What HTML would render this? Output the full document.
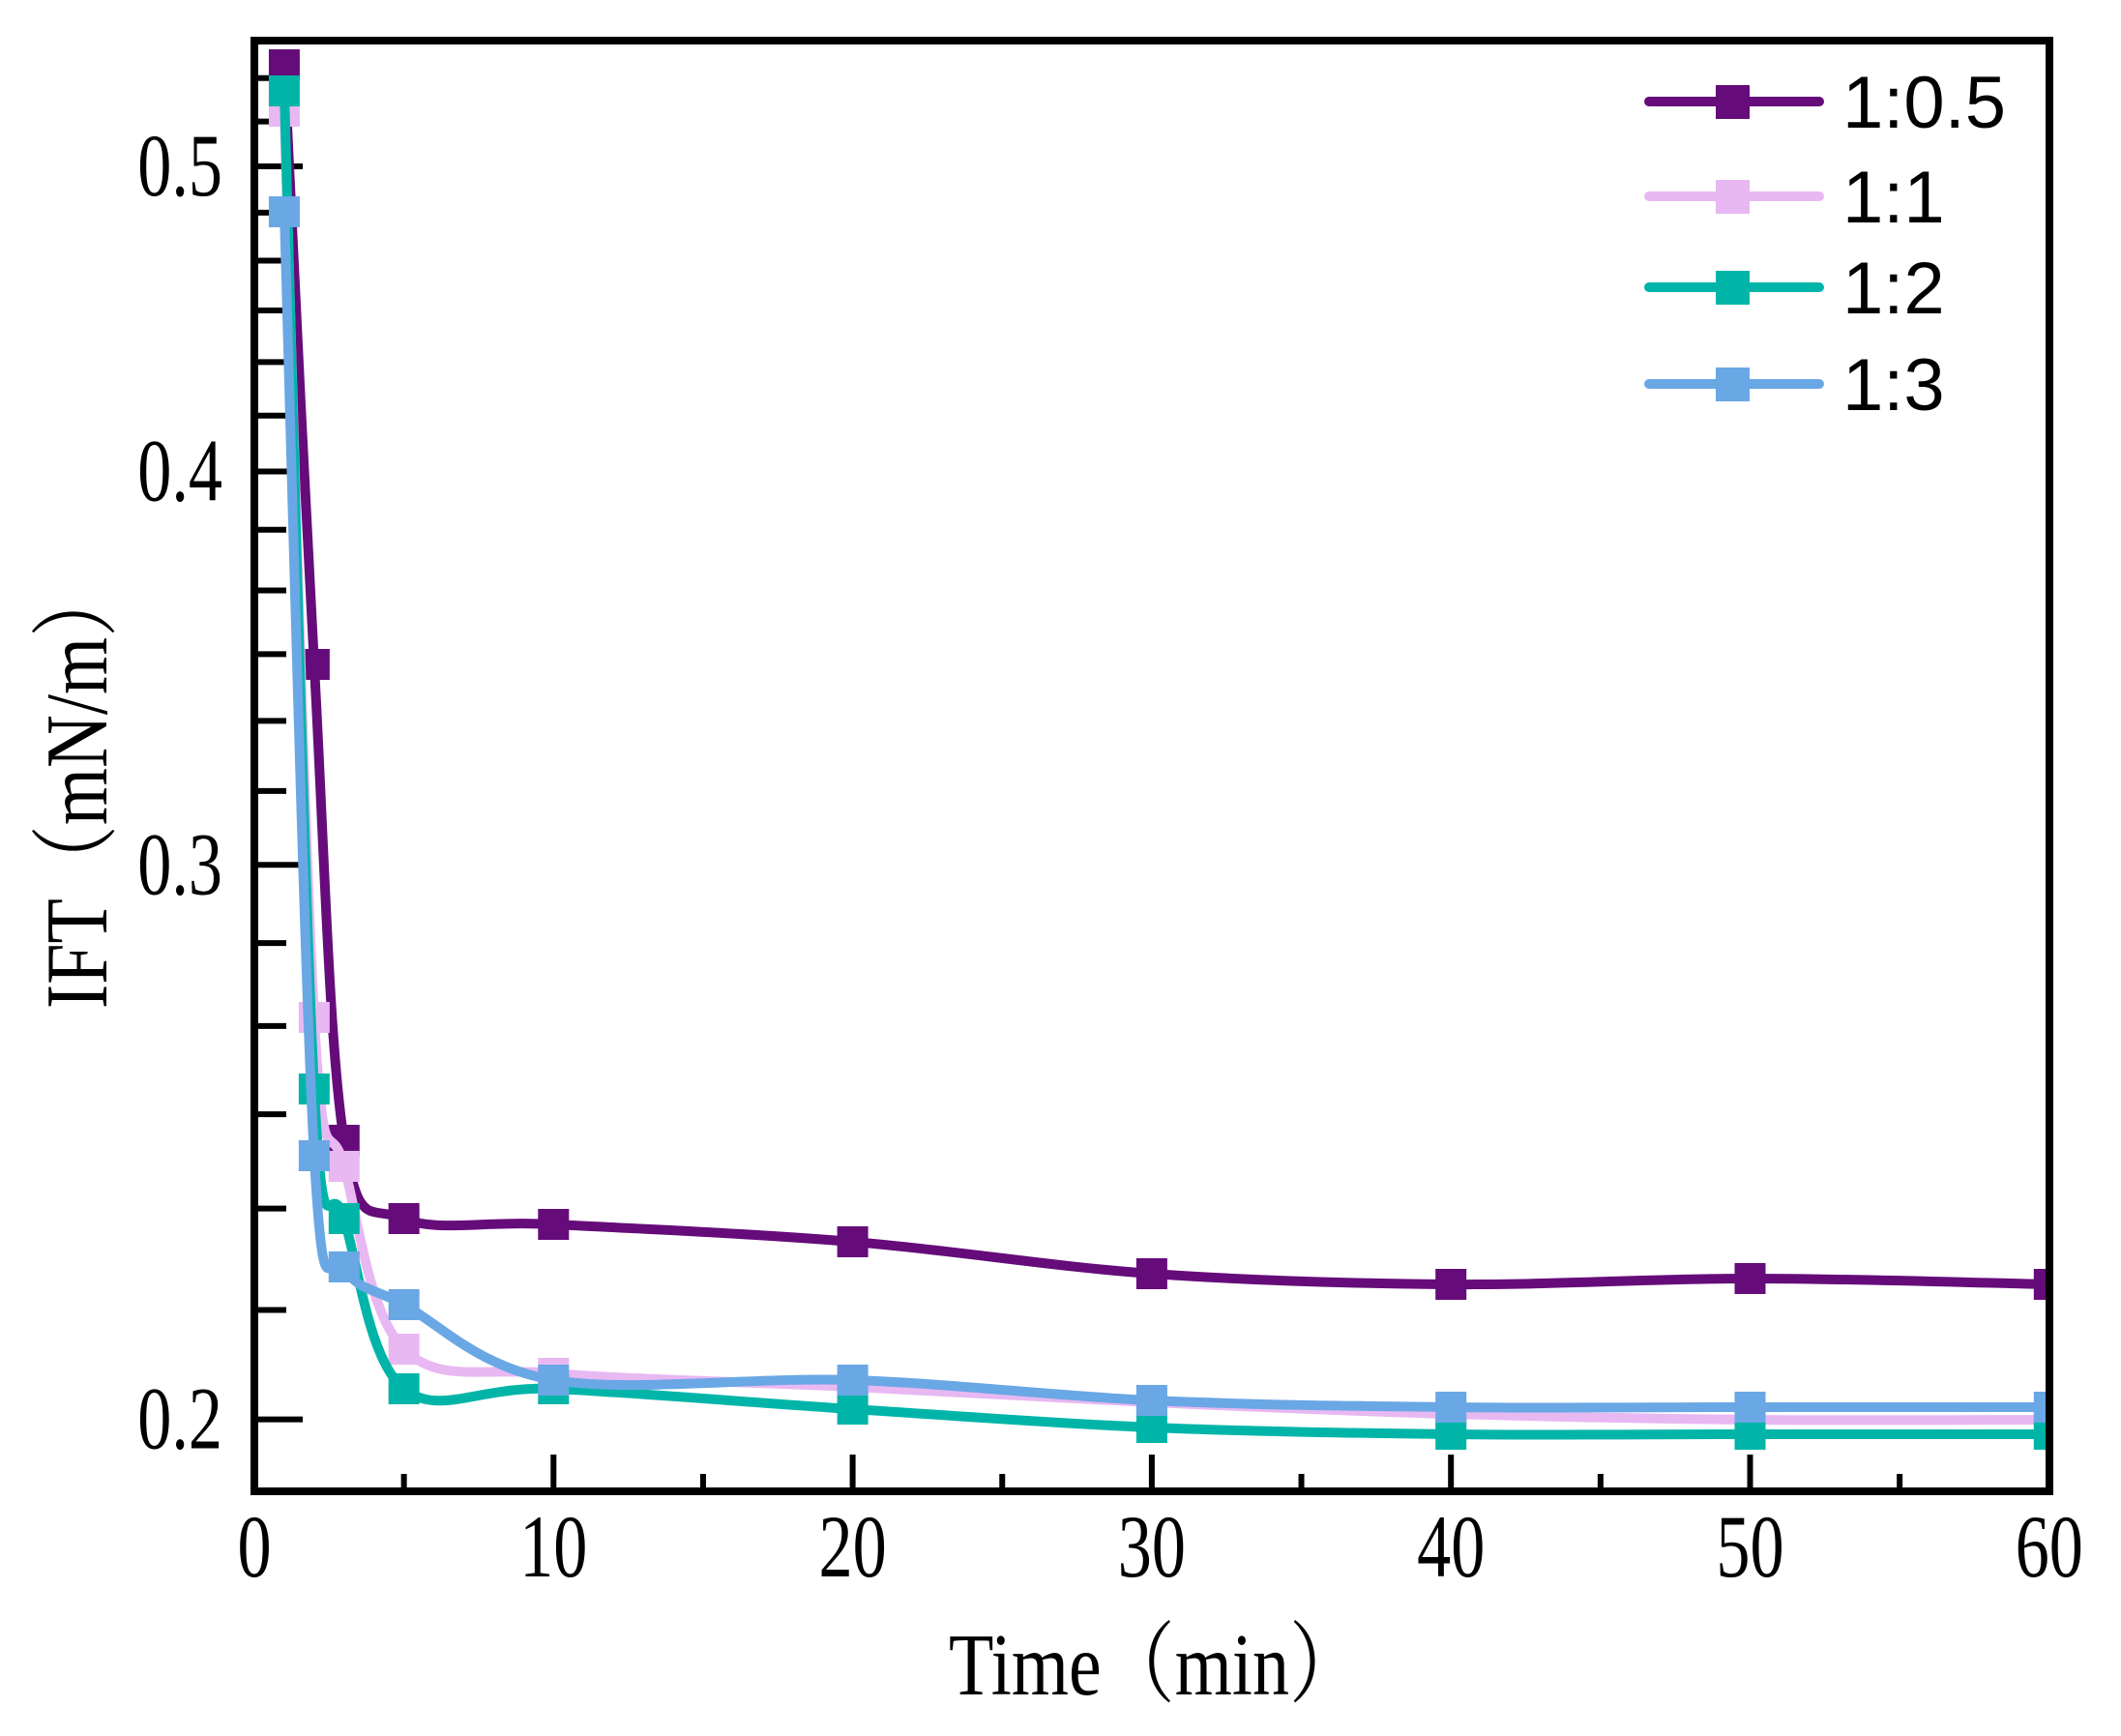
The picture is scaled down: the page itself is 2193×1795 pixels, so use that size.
<!DOCTYPE html>
<html><head><meta charset="utf-8">
<style>
html,body{margin:0;padding:0;background:#fff;}
svg{display:block;}
.t{font-family:"Liberation Serif","Noto Serif CJK SC",serif;fill:#000;}
.l{font-family:"Liberation Sans",sans-serif;fill:#000;}
</style></head><body>
<svg id="s" width="2193" height="1795" viewBox="0 0 2193 1795" xmlns="http://www.w3.org/2000/svg">
<defs><clipPath id="c"><rect x="267" y="46" width="1851" height="1492"/></clipPath></defs>
<g id="ticks"></g>
<g id="series" clip-path="url(#c)"></g>
<rect x="263" y="42" width="1856" height="1500" fill="none" stroke="#000" stroke-width="8"/>
<g id="labels"></g>
<text class="t" font-size="76" text-anchor="middle" transform="translate(1195,1752) scale(1,1.2)">Time（min）</text>
<text class="t" font-size="76" text-anchor="middle" transform="translate(110,813) rotate(-90) scale(1,1.2)">IFT（mN/m）</text>
<g id="legend"></g>
</svg>
<script>
var NS="http://www.w3.org/2000/svg";
function el(p,n,a,txt){var e=document.createElementNS(NS,n);for(var k in a)e.setAttribute(k,a[k]);if(txt!==undefined)e.textContent=txt;p.appendChild(e);return e;}
function X(t){return 263+30.93*t;}
function Y(v){return 172+1414*Math.log(0.5/v);}
var tk=document.getElementById('ticks'),lb=document.getElementById('labels');
for(var k=12;k<=33;k++){var v=k/60; if(v<0.19||v>0.548)continue;var y=Y(v);var major=(k%6==0);
 el(tk,'line',{x1:263,x2:263+(major?50:33),y1:y,y2:y,stroke:'#000','stroke-width':6});
 if(major) el(lb,'text',{class:'t','font-size':78,'text-anchor':'end',transform:'translate(230,'+(y+30)+') scale(0.9,1.18)'},(k/60).toFixed(1));}
for(var t=5;t<60;t+=5){var x=X(t);var major=(t%10==0);
 el(tk,'line',{x1:x,x2:x,y1:1542,y2:1542-(major?38:18),stroke:'#000','stroke-width':6});}
for(var t=0;t<=60;t+=10) el(lb,'text',{class:'t','font-size':78,'text-anchor':'middle',transform:'translate('+X(t)+',1630) scale(0.9,1.18)'},String(t));
var xs=[1,2,3,5,10,20,30,40,50,60];
var S=[
 {c:'#650c7a',y:[67,687,1179,1260,1266,1284,1317,1328,1322,1328],n:'1:0.5'},
 {c:'#e8b8f2',y:[115,1052,1206,1395,1420,1434,1450,1462,1468,1468],n:'1:1'},
 {c:'#00b5a8',y:[94,1126,1260,1436,1436,1457,1476,1483,1483,1483],n:'1:2'},
 {c:'#6aa7e5',y:[219,1195,1310,1349,1427,1427,1448,1455,1455,1455],n:'1:3'}];
var sg=document.getElementById('series');
S.forEach(function(s){
 var P=xs.map(function(t,i){return [X(t),s.y[i]];});
 var d='M'+P[0][0]+','+P[0][1];
 for(var i=0;i<P.length-1;i++){var p0=P[Math.max(0,i-1)],p1=P[i],p2=P[i+1],p3=P[Math.min(P.length-1,i+2)];
  var c1=[p1[0]+(p2[0]-p0[0])/6,p1[1]+(p2[1]-p0[1])/6],c2=[p2[0]-(p3[0]-p1[0])/6,p2[1]-(p3[1]-p1[1])/6];
  d+=' C'+c1+' '+c2+' '+p2;}
 el(sg,'path',{d:d,fill:'none',stroke:s.c,'stroke-width':10,'stroke-linejoin':'round'});
 P.forEach(function(p){el(sg,'rect',{x:p[0]-16,y:p[1]-16,width:32,height:32,fill:s.c});});
});
var lg=document.getElementById('legend');
S.forEach(function(s,i){var y=[105,203,297,397][i];
 el(lg,'line',{x1:1705,x2:1881,y1:y,y2:y,stroke:s.c,'stroke-width':10,'stroke-linecap':'round'});
 el(lg,'rect',{x:1774,y:y-17,width:35,height:35,fill:s.c});
 el(lg,'text',{class:'l',x:1905,y:y+27,'font-size':76},s.n);
});
</script>
</body></html>
